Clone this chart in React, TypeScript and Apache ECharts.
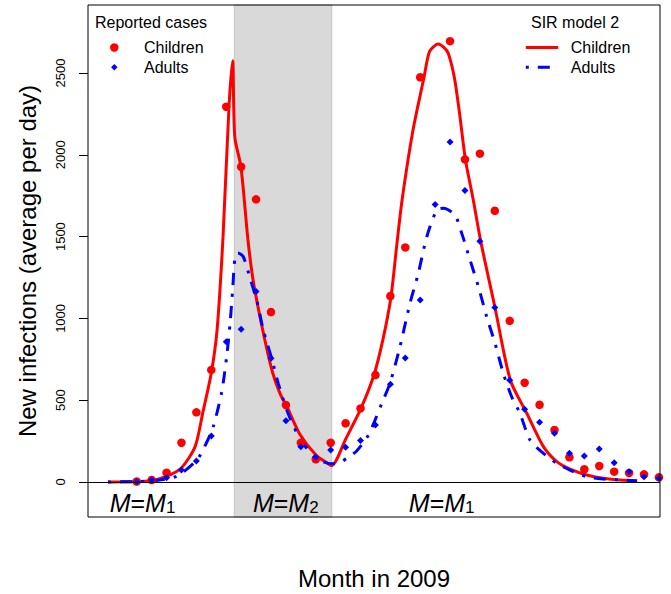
import React, { useEffect, useRef } from "react";
import * as echarts from "echarts";

const FONT = "'Liberation Sans', Arial, Helvetica, sans-serif";

// Weekly report days (day 0 = first report)
const obsDays = [0, 7, 14, 21, 28, 35, 42, 49, 56, 63, 70, 77, 84, 91, 98, 105, 112, 119, 126, 133, 140, 147, 154, 161, 168, 175, 182, 189, 196, 203, 210, 217, 224, 231, 238, 245];
const childrenReported = [3, 12, 57, 240, 426, 685, 2294, 1927, 1728, 1039, 471, 240, 139, 240, 359, 450, 654, 1137, 1434, 2474, null, 2695, 1972, 2007, 1658, 985, 607, 472, 318, 151, 78, 98, 63, 55, 47, 29];
const adultsReported = [2, 12, 26, 73, 128, 281, 858, 934, 1164, 757, 375, 216, 151, 196, 212, 253, 349, 598, 758, 1113, 1696, 2078, 1782, 1472, 1066, 622, 445, 365, 298, 176, 159, 202, 118, 63, 32, 23];

// SIR model 2 curves
const childrenModelDays = [-13.5, -7.8, -0.8, 6.2, 13.7, 20.8, 27.4, 31.1, 34.9, 37.7, 40.5, 43.3, 45.0, 46.0, 48.9, 52.2, 54.6, 58.8, 63.5, 67.2, 70.5, 76.6, 84.1, 89.8, 91.5, 98.2, 105.2, 111.3, 115.5, 119.3, 122.1, 124.5, 129.6, 134.8, 137.4, 141.4, 144.2, 146.2, 149.0, 151.5, 154.2, 157.9, 161.4, 168.1, 175.3, 183.0, 190.8, 197.1, 203.3, 211.1, 218.9, 226.8, 234.8];
const childrenModel = [0, 1, 3, 8, 33, 84, 216, 430, 660, 929, 1500, 2294, 2575, 2110, 1927, 1479, 1235, 949, 680, 542, 460, 290, 165, 112, 100, 267, 450, 654, 870, 1133, 1459, 1724, 2150, 2474, 2633, 2677, 2655, 2620, 2474, 2250, 1972, 1724, 1471, 1065, 622, 420, 216, 124, 78, 43, 23, 12, 8];
const adultsModelDays = [-13.5, -0.8, 8.6, 18.8, 28.2, 32.0, 35.9, 39.9, 42.2, 43.8, 45.0, 46.1, 47.5, 50.0, 53.2, 56.3, 59.4, 63.3, 66.4, 70.4, 75.1, 79.0, 83.7, 88.0, 91.5, 95.4, 99.0, 103.2, 108.7, 115.0, 118.8, 123.5, 128.2, 132.1, 136.1, 140.8, 143.9, 149.3, 152.5, 156.4, 160.3, 164.2, 168.1, 172.0, 175.9, 179.8, 184.5, 190.8, 197.1, 203.3, 211.1, 218.9, 228.3, 234.7];
const adultsModel = [0, 2, 8, 35, 134, 220, 338, 552, 766, 970, 1174, 1370, 1400, 1377, 1245, 1112, 929, 756, 603, 440, 300, 220, 150, 122, 112, 118, 150, 190, 287, 481, 603, 827, 1092, 1275, 1499, 1663, 1673, 1632, 1520, 1357, 1194, 1010, 848, 664, 521, 420, 257, 175, 114, 73, 32, 18, 12, 6];

const yTicks = [0, 500, 1000, 1500, 2000, 2500];
const periodM2 = [45.8, 91.5];

const pairs = (xs: number[], ys: (number | null)[]) =>
  xs.map((x, i) => [x, ys[i]]).filter((p) => p[1] !== null);

export default function App() {
  const ref = useRef<HTMLDivElement>(null);
  useEffect(() => {
    if (!ref.current) return;
    const chart = echarts.init(ref.current, undefined, { renderer: "svg" });
    const legendBase: any = {
      orient: "horizontal",
      padding: 0,
      selectedMode: false,
      formatter: (n: string) => n.split(": ")[1],
    };
    const legendText = (pad: number) => ({ fontSize: 16, color: "#000", fontFamily: FONT, padding: [0, 0, 0, pad] });
    const mRich = {
      i: { fontStyle: "italic", fontSize: 25, fontFamily: FONT, fill: "#000", verticalAlign: "bottom" },
      n: { fontSize: 25, fontFamily: FONT, fill: "#000", verticalAlign: "bottom" },
      s: { fontSize: 17, fontFamily: FONT, fill: "#000", verticalAlign: "bottom" },
    };
    const mLabel = (x: number, sub: string) => ({
      type: "text",
      x,
      y: 503,
      z: 20,
      style: {
        text: `{i|M}{n|=}{i|M}{s|${sub}}`,
        rich: mRich,
        align: "center",
        verticalAlign: "middle",
        fill: "#000",
      },
    });
    chart.setOption({
      animation: false,
      backgroundColor: "#fff",
      textStyle: { fontFamily: FONT },
      grid: {
        left: 88,
        right: 11,
        top: 5,
        bottom: 77,
        show: true,
        z: 6,
        backgroundColor: "transparent",
        borderColor: "#000",
        borderWidth: 1,
        outerBoundsMode: "none",
      },
      xAxis: {
        type: "value",
        min: -22.85,
        max: 245.5,
        name: "Month in 2009",
        nameLocation: "middle",
        nameGap: 49.4,
        nameTextStyle: { fontSize: 24, color: "#000", fontFamily: FONT },
        axisLine: { show: false, onZero: false },
        axisTick: { show: false },
        axisLabel: { show: false },
        splitLine: { show: false },
      },
      yAxis: {
        type: "value",
        min: -214,
        max: 2916,
        name: "New infections (average per day)",
        nameLocation: "middle",
        nameGap: 49,
        nameTextStyle: { fontSize: 24, color: "#000", fontFamily: FONT },
        axisLine: { show: false, onZero: false },
        axisTick: { show: true, length: 9, lineStyle: { color: "#000", width: 1 }, customValues: yTicks },
        axisLabel: {
          show: true,
          rotate: 90,
          margin: 21,
          fontSize: 13,
          color: "#000",
          fontFamily: FONT,
          customValues: yTicks,
          formatter: (v: number) => String(v),
        },
        splitLine: { show: false },
      },
      legend: [
        { ...legendBase, data: ["Reported: Children"], left: 110.05, top: 39.5, itemWidth: 8.5, itemHeight: 8.5, textStyle: legendText(20.5) },
        { ...legendBase, data: ["Reported: Adults"], left: 111.05, top: 59.2, itemWidth: 6.5, itemHeight: 6.5, textStyle: legendText(21.45) },
        { ...legendBase, data: ["SIR: Children"], left: 524.3, top: 39.5, itemWidth: 32.4, itemHeight: 3, lineStyle: { width: 3 }, textStyle: legendText(7.6) },
        { ...legendBase, data: ["SIR: Adults"], left: 524.3, top: 59.2, itemWidth: 32.4, itemHeight: 3, lineStyle: { width: 3 }, textStyle: legendText(7.6) },
      ],
      graphic: [
        { type: "text", x: 95, y: 22.5, style: { text: "Reported cases", fontSize: 16, fontFamily: FONT, fill: "#000", align: "left", verticalAlign: "middle" } },
        { type: "text", x: 575, y: 22.8, style: { text: "SIR model 2", fontSize: 16, fontFamily: FONT, fill: "#000", align: "center", verticalAlign: "middle" } },
        mLabel(142.5, "1"),
        mLabel(285.8, "2"),
        mLabel(441.7, "1"),
      ],
      series: [
        {
          type: "line",
          name: "period",
          data: [],
          silent: true,
          markArea: {
            silent: true,
            itemStyle: { color: "#D9D9D9", borderColor: "#C4C4C4", borderWidth: 1 },
            data: [[{ xAxis: periodM2[0] }, { xAxis: periodM2[1] }]],
          },
          markLine: {
            silent: true,
            symbol: ["none", "none"],
            label: { show: false },
            lineStyle: { color: "#000", width: 1, type: "solid" },
            data: [{ yAxis: 0 }],
          },
        },
        {
          type: "line",
          name: "SIR: Children",
          data: pairs(childrenModelDays, childrenModel),
          symbol: "none",
          showSymbol: false,
          smooth: 0.25,
          lineStyle: { color: "#FF0000", width: 3 },
          itemStyle: { color: "#FF0000" },
          z: 3,
        },
        {
          type: "line",
          name: "SIR: Adults",
          data: pairs(adultsModelDays, adultsModel),
          symbol: "none",
          showSymbol: false,
          smooth: 0.25,
          lineStyle: { color: "#0000FF", width: 3, type: [3, 9, 12, 9] },
          itemStyle: { color: "#0000FF" },
          z: 3,
        },
        {
          type: "scatter",
          name: "Reported: Children",
          data: pairs(obsDays, childrenReported),
          symbol: "circle",
          symbolSize: 8.5,
          itemStyle: { color: "#FF0000", opacity: 1 },
          z: 4,
        },
        {
          type: "scatter",
          name: "Reported: Adults",
          data: pairs(obsDays, adultsReported),
          symbol: "diamond",
          symbolSize: 7,
          itemStyle: { color: "#0000FF", opacity: 1 },
          z: 4,
        },
      ],
    });
    return () => chart.dispose();
  }, []);
  return (
    <div
      ref={ref}
      style={{ position: "fixed", left: 0, top: 0, width: 671, height: 594, background: "#fff" }}
    />
  );
}
